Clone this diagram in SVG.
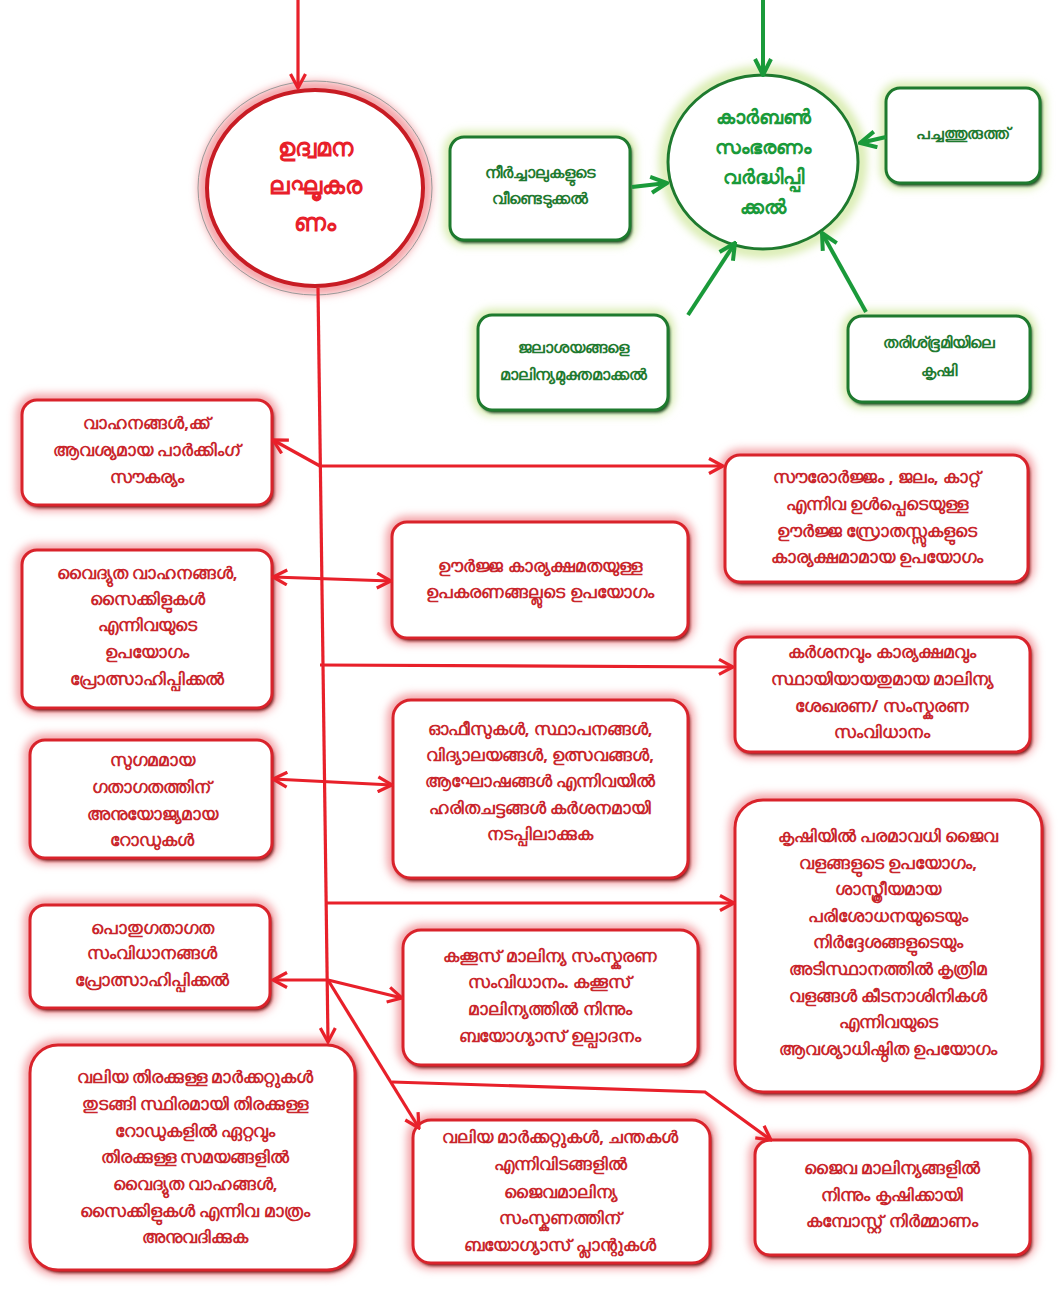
<svg xmlns="http://www.w3.org/2000/svg" width="1059" height="1289" viewBox="0 0 1059 1289">
<defs>
<style>
.rt{font-family:"Noto Sans","DejaVu Sans",sans-serif;font-weight:bold;font-size:16.5px;fill:#c9252b;text-anchor:middle}
.gt{font-family:"Noto Sans","DejaVu Sans",sans-serif;font-weight:bold;font-size:16px;fill:#1f7a30;text-anchor:middle}
.ct{font-family:"Noto Sans","DejaVu Sans",sans-serif;font-weight:bold;font-size:24px;fill:#e8202a;text-anchor:middle}
.cg{font-family:"Noto Sans","DejaVu Sans",sans-serif;font-weight:bold;font-size:20px;fill:#1a9a3a;text-anchor:middle}
.rglow{fill:none;stroke:#f4a3a7;stroke-width:12}
.rbox{fill:#fff;stroke:#d9232b;stroke-width:3}
.rsh{fill:#7a1a1a}
.gglow{fill:none;stroke:#d9ecb0;stroke-width:12}
.gbox{fill:#fff;stroke:#1e7a2e;stroke-width:3}
.gsh{fill:#1c4a22}
.rl{fill:none;stroke:#e8202a;stroke-width:3.2}
.gl{fill:none;stroke:#1a9a3a;stroke-width:4}
</style>
<filter id="blur" x="-20%" y="-20%" width="140%" height="140%"><feGaussianBlur stdDeviation="4"/></filter>
<filter id="sblur" x="-10%" y="-10%" width="120%" height="120%"><feGaussianBlur stdDeviation="1.5"/></filter>
<marker id="ar" viewBox="0 0 18 18" refX="16" refY="9" markerWidth="18" markerHeight="18" markerUnits="userSpaceOnUse" orient="auto-start-reverse"><path d="M2,1.5 L16,9 L2,16.5" fill="none" stroke="#e8202a" stroke-width="3.2"/></marker>
<marker id="ag" viewBox="0 0 20 20" refX="18" refY="10" markerWidth="20" markerHeight="20" markerUnits="userSpaceOnUse" orient="auto-start-reverse"><path d="M2,2 L18,10 L2,18" fill="none" stroke="#1a9a3a" stroke-width="4"/></marker>
</defs>
<rect width="1059" height="1289" fill="#fff"/>

<g id="n-emission">
<ellipse cx="315" cy="188" rx="110" ry="100" fill="none" stroke="#f4a3a7" stroke-width="14" filter="url(#blur)"/>
<ellipse cx="315" cy="188" rx="108" ry="98" fill="#fff" stroke="#c81c24" stroke-width="4"/>
<ellipse cx="315" cy="188" rx="117" ry="107" fill="none" stroke="#999" stroke-width="1"/>
<text class="ct" x="315" y="156">ഉദ്വമന</text>
<text class="ct" x="315" y="194">ലഘൂകര</text>
<text class="ct" x="315" y="231">ണം</text>
</g>

<g id="n-carbon">
<ellipse cx="763" cy="162" rx="98" ry="90" fill="none" stroke="#d9ecb0" stroke-width="12" filter="url(#blur)"/>
<ellipse cx="763" cy="162" rx="95" ry="87" fill="#fff" stroke="#1e7a2e" stroke-width="3"/>
<text class="cg" x="763" y="124">കാർബൺ</text>
<text class="cg" x="763" y="154">സംഭരണം</text>
<text class="cg" x="763" y="184">വർദ്ധിപ്പി</text>
<text class="cg" x="763" y="214">ക്കൽ</text>
</g>

<g id="n-streams">
<rect x="450" y="137" width="180" height="103" rx="14" class="gglow" filter="url(#blur)"/>
<rect x="452" y="140" width="180" height="103" rx="14" class="gsh" filter="url(#sblur)"/>
<rect x="450" y="137" width="180" height="103" rx="14" class="gbox"/>
<text class="gt" x="540" y="178">നീർച്ചാലുകളുടെ</text>
<text class="gt" x="540" y="204">വീണ്ടെടുക്കൽ</text>
</g>

<g id="n-greenisland">
<rect x="886" y="88" width="154" height="95" rx="14" class="gglow" filter="url(#blur)"/>
<rect x="888" y="91" width="154" height="95" rx="14" class="gsh" filter="url(#sblur)"/>
<rect x="886" y="88" width="154" height="95" rx="14" class="gbox"/>
<text class="gt" x="963" y="139">പച്ചത്തുരുത്ത്</text>
</g>

<g id="n-waterbodies">
<rect x="478" y="315" width="190" height="95" rx="14" class="gglow" filter="url(#blur)"/>
<rect x="480" y="318" width="190" height="95" rx="14" class="gsh" filter="url(#sblur)"/>
<rect x="478" y="315" width="190" height="95" rx="14" class="gbox"/>
<text class="gt" x="573" y="353">ജലാശയങ്ങളെ</text>
<text class="gt" x="573" y="380">മാലിന്യമുക്തമാക്കൽ</text>
</g>

<g id="n-fallow">
<rect x="848" y="316" width="182" height="86" rx="14" class="gglow" filter="url(#blur)"/>
<rect x="850" y="319" width="182" height="86" rx="14" class="gsh" filter="url(#sblur)"/>
<rect x="848" y="316" width="182" height="86" rx="14" class="gbox"/>
<text class="gt" x="939" y="348">തരിശ്ഭൂമിയിലെ</text>
<text class="gt" x="939" y="376">കൃഷി</text>
</g>

<g id="n-parking">
<rect x="22" y="400" width="250" height="105" rx="15" class="rglow" filter="url(#blur)"/>
<rect x="24" y="403" width="250" height="105" rx="15" class="rsh" filter="url(#sblur)"/>
<rect x="22" y="400" width="250" height="105" rx="15" class="rbox"/>
<text class="rt" x="147" y="429">വാഹനങ്ങൾ,ക്ക്</text>
<text class="rt" x="147" y="456">ആവശ്യമായ  പാർക്കിംഗ്</text>
<text class="rt" x="147" y="483">സൗകര്യം</text>
</g>

<g id="n-renewable">
<rect x="725" y="455" width="303" height="127" rx="15" class="rglow" filter="url(#blur)"/>
<rect x="727" y="458" width="303" height="127" rx="15" class="rsh" filter="url(#sblur)"/>
<rect x="725" y="455" width="303" height="127" rx="15" class="rbox"/>
<text class="rt" x="877" y="483">സൗരോർജ്ജം , ജലം, കാറ്റ്</text>
<text class="rt" x="877" y="510">എന്നിവ ഉൾപ്പെടെയുള്ള</text>
<text class="rt" x="877" y="537">ഊർജ്ജ സ്രോതസ്സുകളുടെ</text>
<text class="rt" x="877" y="563">കാര്യക്ഷമാമായ ഉപയോഗം</text>
</g>

<g id="n-ev">
<rect x="22" y="550" width="250" height="158" rx="15" class="rglow" filter="url(#blur)"/>
<rect x="24" y="553" width="250" height="158" rx="15" class="rsh" filter="url(#sblur)"/>
<rect x="22" y="550" width="250" height="158" rx="15" class="rbox"/>
<text class="rt" x="147" y="579">വൈദ്യുത  വാഹനങ്ങൾ,</text>
<text class="rt" x="147" y="605">സൈക്കിളുകൾ</text>
<text class="rt" x="147" y="631">എന്നിവയുടെ</text>
<text class="rt" x="147" y="658">ഉപയോഗം</text>
<text class="rt" x="147" y="685">പ്രോത്സാഹിപ്പിക്കൽ</text>
</g>

<g id="n-efficient">
<rect x="392" y="522" width="296" height="116" rx="15" class="rglow" filter="url(#blur)"/>
<rect x="394" y="525" width="296" height="116" rx="15" class="rsh" filter="url(#sblur)"/>
<rect x="392" y="522" width="296" height="116" rx="15" class="rbox"/>
<text class="rt" x="540" y="572">ഊർജ്ജ കാര്യക്ഷമതയുള്ള</text>
<text class="rt" x="540" y="598">ഉപകരണങ്ങല്ലുടെ ഉപയോഗം</text>
</g>

<g id="n-waste">
<rect x="735" y="637" width="295" height="115" rx="15" class="rglow" filter="url(#blur)"/>
<rect x="737" y="640" width="295" height="115" rx="15" class="rsh" filter="url(#sblur)"/>
<rect x="735" y="637" width="295" height="115" rx="15" class="rbox"/>
<text class="rt" x="882" y="658">കർശനവും കാര്യക്ഷമവും</text>
<text class="rt" x="882" y="685">സ്ഥായിയായതുമായ  മാലിന്യ</text>
<text class="rt" x="882" y="712">ശേഖരണ/ സംസ്കരണ</text>
<text class="rt" x="882" y="738">സംവിധാനം</text>
</g>

<g id="n-roads">
<rect x="30" y="740" width="242" height="118" rx="15" class="rglow" filter="url(#blur)"/>
<rect x="32" y="743" width="242" height="118" rx="15" class="rsh" filter="url(#sblur)"/>
<rect x="30" y="740" width="242" height="118" rx="15" class="rbox"/>
<text class="rt" x="152" y="766">സുഗമമായ</text>
<text class="rt" x="152" y="793">ഗതാഗതത്തിന്</text>
<text class="rt" x="152" y="820">അനുയോജ്യമായ</text>
<text class="rt" x="152" y="846">റോഡുകൾ</text>
</g>

<g id="n-greenprotocol">
<rect x="393" y="700" width="295" height="178" rx="18" class="rglow" filter="url(#blur)"/>
<rect x="395" y="703" width="295" height="178" rx="18" class="rsh" filter="url(#sblur)"/>
<rect x="393" y="700" width="295" height="178" rx="18" class="rbox"/>
<text class="rt" x="540" y="735">ഓഫീസുകൾ, സ്ഥാപനങ്ങൾ,</text>
<text class="rt" x="540" y="761">വിദ്യാലയങ്ങൾ, ഉത്സവങ്ങൾ,</text>
<text class="rt" x="540" y="787">ആഘോഷങ്ങൾ എന്നിവയിൽ</text>
<text class="rt" x="540" y="814">ഹരിതചട്ടങ്ങൾ കർശനമായി</text>
<text class="rt" x="540" y="840">നടപ്പിലാക്കുക</text>
</g>

<g id="n-organic">
<rect x="735" y="800" width="307" height="292" rx="28" class="rglow" filter="url(#blur)"/>
<rect x="737" y="803" width="307" height="292" rx="28" class="rsh" filter="url(#sblur)"/>
<rect x="735" y="800" width="307" height="292" rx="28" class="rbox"/>
<text class="rt" x="888" y="842">കൃഷിയിൽ  പരമാവധി ജൈവ</text>
<text class="rt" x="888" y="869">വളങ്ങളുടെ  ഉപയോഗം,</text>
<text class="rt" x="888" y="895">ശാസ്ത്രീയമായ</text>
<text class="rt" x="888" y="922">പരിശോധനയുടെയും</text>
<text class="rt" x="888" y="948">നിർദ്ദേശങ്ങളുടെയും</text>
<text class="rt" x="888" y="975">അടിസ്ഥാനത്തിൽ   കൃത്രിമ</text>
<text class="rt" x="888" y="1002">വളങ്ങൾ  കീടനാശിനികൾ</text>
<text class="rt" x="888" y="1028">എന്നിവയുടെ</text>
<text class="rt" x="888" y="1055">ആവശ്യാധിഷ്ഠിത  ഉപയോഗം</text>
</g>

<g id="n-publictransport">
<rect x="30" y="905" width="240" height="103" rx="15" class="rglow" filter="url(#blur)"/>
<rect x="32" y="908" width="240" height="103" rx="15" class="rsh" filter="url(#sblur)"/>
<rect x="30" y="905" width="240" height="103" rx="15" class="rbox"/>
<text class="rt" x="152" y="934">പൊതുഗതാഗത</text>
<text class="rt" x="152" y="959">സംവിധാനങ്ങൾ</text>
<text class="rt" x="152" y="986">പ്രോത്സാഹിപ്പിക്കൽ</text>
</g>

<g id="n-septage">
<rect x="403" y="930" width="295" height="135" rx="18" class="rglow" filter="url(#blur)"/>
<rect x="405" y="933" width="295" height="135" rx="18" class="rsh" filter="url(#sblur)"/>
<rect x="403" y="930" width="295" height="135" rx="18" class="rbox"/>
<text class="rt" x="550" y="962">കക്കൂസ് മാലിന്യ സംസ്കരണ</text>
<text class="rt" x="550" y="988">സംവിധാനം. കക്കൂസ്</text>
<text class="rt" x="550" y="1015">മാലിന്യത്തിൽ   നിന്നും</text>
<text class="rt" x="550" y="1042">ബയോഗ്യാസ് ഉല്പാദനം</text>
</g>

<g id="n-markets">
<rect x="30" y="1045" width="325" height="225" rx="28" class="rglow" filter="url(#blur)"/>
<rect x="32" y="1048" width="325" height="225" rx="28" class="rsh" filter="url(#sblur)"/>
<rect x="30" y="1045" width="325" height="225" rx="28" class="rbox"/>
<text class="rt" x="195" y="1083">വലിയ തിരക്കുള്ള മാർക്കറ്റുകൾ</text>
<text class="rt" x="195" y="1110">തുടങ്ങി സ്ഥിരമായി  തിരക്കുള്ള</text>
<text class="rt" x="195" y="1137">റോഡുകളിൽ ഏറ്റവും</text>
<text class="rt" x="195" y="1163">തിരക്കുള്ള സമയങ്ങളിൽ</text>
<text class="rt" x="195" y="1190">വൈദ്യുത വാഹങ്ങൾ,</text>
<text class="rt" x="195" y="1217">സൈക്കിളുകൾ എന്നിവ മാത്രം</text>
<text class="rt" x="195" y="1243">അനുവദിക്കുക</text>
</g>

<g id="n-biogas">
<rect x="413" y="1120" width="297" height="143" rx="18" class="rglow" filter="url(#blur)"/>
<rect x="415" y="1123" width="297" height="143" rx="18" class="rsh" filter="url(#sblur)"/>
<rect x="413" y="1120" width="297" height="143" rx="18" class="rbox"/>
<text class="rt" x="560" y="1143">വലിയ  മാർക്കറ്റുകൾ, ചന്തകൾ</text>
<text class="rt" x="560" y="1170">എന്നിവിടങ്ങളിൽ</text>
<text class="rt" x="560" y="1198">ജൈവമാലിന്യ</text>
<text class="rt" x="560" y="1224">സംസ്കണത്തിന്</text>
<text class="rt" x="560" y="1251">ബയോഗ്യാസ്   പ്ലാന്റുകൾ</text>
</g>

<g id="n-compost">
<rect x="755" y="1140" width="275" height="115" rx="15" class="rglow" filter="url(#blur)"/>
<rect x="757" y="1143" width="275" height="115" rx="15" class="rsh" filter="url(#sblur)"/>
<rect x="755" y="1140" width="275" height="115" rx="15" class="rbox"/>
<text class="rt" x="892" y="1174">ജൈവ മാലിന്യങ്ങളിൽ</text>
<text class="rt" x="892" y="1201">നിന്നും കൃഷിക്കായി</text>
<text class="rt" x="892" y="1227">കമ്പോസ്റ്റ് നിർമ്മാണം</text>
</g>

<g id="connectors">
<line class="rl" x1="298" y1="0" x2="298" y2="88" marker-end="url(#ar)"/>
<line class="gl" x1="763" y1="0" x2="763" y2="75" marker-end="url(#ag)"/>
<line class="gl" x1="632" y1="187" x2="667" y2="183" marker-end="url(#ag)"/>
<line class="gl" x1="886" y1="137" x2="860" y2="143" marker-end="url(#ag)"/>
<line class="gl" x1="688" y1="315" x2="735" y2="243" marker-end="url(#ag)"/>
<line class="gl" x1="866" y1="312" x2="822" y2="233" marker-end="url(#ag)"/>
<line class="rl" x1="318" y1="288" x2="328" y2="1042" marker-end="url(#ar)"/>
<line class="rl" x1="320" y1="466" x2="723" y2="466" marker-end="url(#ar)"/>
<line class="rl" x1="320" y1="466" x2="273" y2="440" marker-end="url(#ar)"/>
<line class="rl" x1="273" y1="577" x2="391" y2="581" marker-start="url(#ar)" marker-end="url(#ar)"/>
<line class="rl" x1="320" y1="665" x2="733" y2="667" marker-end="url(#ar)"/>
<line class="rl" x1="273" y1="779" x2="392" y2="785" marker-start="url(#ar)" marker-end="url(#ar)"/>
<line class="rl" x1="326" y1="903" x2="734" y2="903" marker-end="url(#ar)"/>
<line class="rl" x1="273" y1="980" x2="328" y2="980" marker-start="url(#ar)"/>
<line class="rl" x1="328" y1="980" x2="402" y2="998" marker-end="url(#ar)"/>
<line class="rl" x1="328" y1="980" x2="419" y2="1128" marker-end="url(#ar)"/>
<polyline class="rl" points="392,1082 705,1092 771,1140" marker-end="url(#ar)"/>
</g>
</svg>
